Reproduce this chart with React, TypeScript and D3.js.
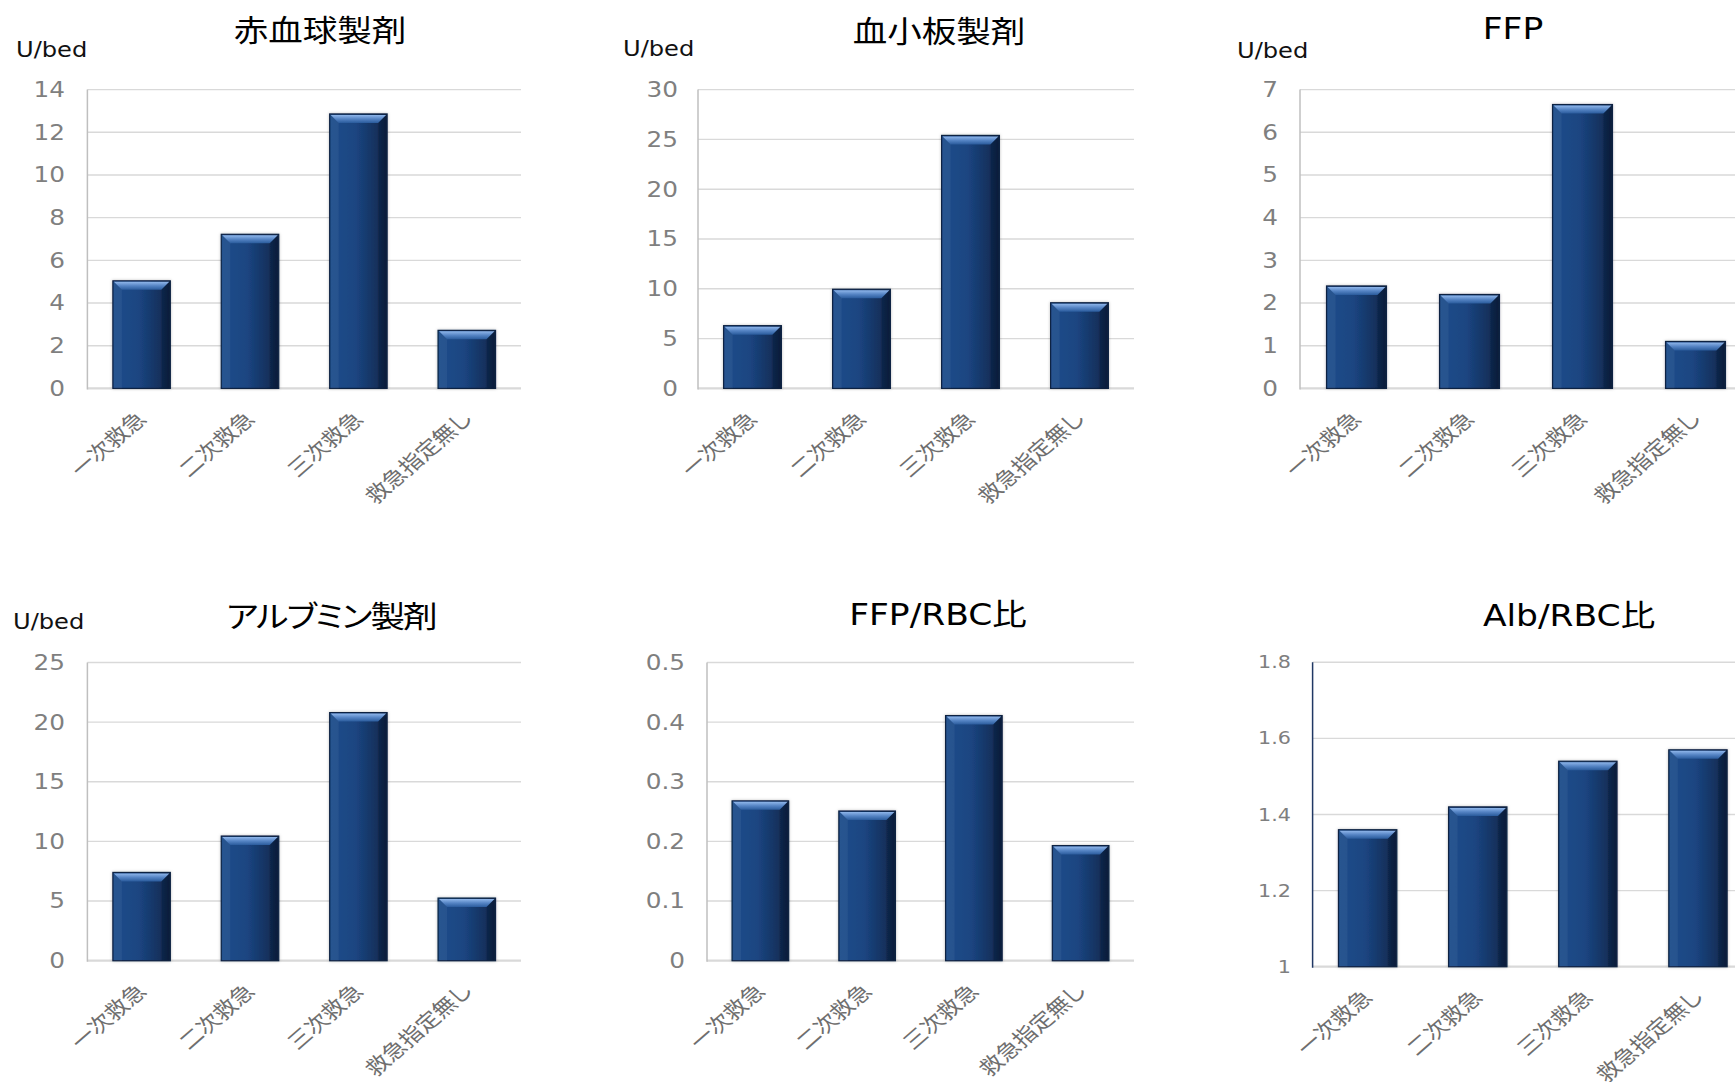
import React from 'react';
import * as d3 from 'd3';

// ---- data ----
const CATEGORIES = ['一次救急', '二次救急', '三次救急', '救急指定無し'];

const RBC_VALUES = [5.04, 7.22, 12.86, 2.72];
const PC_VALUES = [6.3, 9.95, 25.4, 8.6];
const FFP_VALUES = [2.4, 2.2, 6.65, 1.1];
const ALB_VALUES = [7.4, 10.45, 20.8, 5.25];
const FFP_RBC_VALUES = [0.268, 0.251, 0.411, 0.193];
const ALB_RBC_VALUES = [1.36, 1.42, 1.54, 1.57];

const RBC_TICKS = [0, 2, 4, 6, 8, 10, 12, 14];
const PC_TICKS = [0, 5, 10, 15, 20, 25, 30];
const FFP_TICKS = [0, 1, 2, 3, 4, 5, 6, 7];
const ALB_TICKS = [0, 5, 10, 15, 20, 25];
const FFP_RBC_TICKS = [0, 0.1, 0.2, 0.3, 0.4, 0.5];
const ALB_RBC_TICKS = [1, 1.2, 1.4, 1.6, 1.8];

const TITLES = ['赤血球製剤', '血小板製剤', 'FFP', 'アルブミン製剤', 'FFP/RBC比', 'Alb/RBC比'];
const UNIT_LABEL = 'U/bed';

// ---- styling / layout ----
const SX = 1.15; // horizontal stretch of the original picture
const FONT = "'DejaVu Sans', 'Noto Sans CJK JP', sans-serif";
const CJK_FONT = "'Noto Sans CJK JP', sans-serif";

type Panel = {
  title: string;
  titleFont: string;
  titleSpacing: number;
  values: number[];
  ticks: number[];
  left: number;
  right: number;
  top: number;
  bottom: number;
  titleX: number;
  titleY: number;
  unit?: { x: number; y: number };
  tickRight: number;
  tickFont: number;
  axisColor: string;
};

const PANELS: Panel[] = [
  { title: TITLES[0], titleFont: CJK_FONT, titleSpacing: 0, values: RBC_VALUES, ticks: RBC_TICKS, left: 87.4, right: 521, top: 89.6, bottom: 388.4,
    titleX: 320, titleY: 28, unit: { x: 16, y: 50 }, tickRight: 65, tickFont: 21.5, axisColor: '#bfbfbf' },
  { title: TITLES[1], titleFont: CJK_FONT, titleSpacing: 0, values: PC_VALUES, ticks: PC_TICKS, left: 698, right: 1134, top: 89.6, bottom: 388.4,
    titleX: 939, titleY: 29, unit: { x: 623, y: 49 }, tickRight: 678, tickFont: 21.5, axisColor: '#bfbfbf' },
  { title: TITLES[2], titleFont: FONT, titleSpacing: 0, values: FFP_VALUES, ticks: FFP_TICKS, left: 1300, right: 1752, top: 89.6, bottom: 388.4,
    titleX: 1513, titleY: 29, unit: { x: 1237, y: 51 }, tickRight: 1278, tickFont: 21.5, axisColor: '#bfbfbf' },
  { title: TITLES[3], titleFont: CJK_FONT, titleSpacing: -1.6, values: ALB_VALUES, ticks: ALB_TICKS, left: 87.4, right: 521, top: 662.5, bottom: 960.7,
    titleX: 331, titleY: 614, unit: { x: 13, y: 622 }, tickRight: 65, tickFont: 21.5, axisColor: '#bfbfbf' },
  { title: TITLES[4], titleFont: FONT, titleSpacing: 0, values: FFP_RBC_VALUES, ticks: FFP_RBC_TICKS, left: 707, right: 1134, top: 662.5, bottom: 960.7,
    titleX: 938, titleY: 615, tickRight: 685, tickFont: 21.5, axisColor: '#bfbfbf' },
  { title: TITLES[5], titleFont: FONT, titleSpacing: 0, values: ALB_RBC_VALUES, ticks: ALB_RBC_TICKS, left: 1312.6, right: 1753, top: 662.3, bottom: 966.7,
    titleX: 1569, titleY: 616, tickRight: 1291, tickFont: 18, axisColor: '#203864' },
];

const fmt = (v: number) => String(+v.toFixed(2));

function StretchText(props: {
  x: number; y: number; size: number; fill: string; anchor?: string; children: React.ReactNode; rotate?: number;
  family?: string; baseline?: string; spacing?: number;
}) {
  const { x, y, size, fill, anchor = 'start', children, rotate = 0, family = FONT, baseline = 'central', spacing = 0 } = props;
  return (
    <text
      transform={`translate(${x},${y}) scale(${SX},1) rotate(${rotate})`}
      fontSize={size}
      fill={fill}
      textAnchor={anchor}
      dominantBaseline={baseline}
      fontFamily={family}
      letterSpacing={spacing}
      style={{ fontFeatureSettings: '"palt" 1' }}
    >
      {children}
    </text>
  );
}

function ChartPanel({ p }: { p: Panel }) {
  const x = d3.scaleBand<string>().domain(CATEGORIES).range([p.left, p.right]).paddingInner(0.47).paddingOuter(0.235);
  const y = d3.scaleLinear().domain([p.ticks[0], p.ticks[p.ticks.length - 1]]).range([p.bottom, p.top]);
  const bw = x.bandwidth();
  const bev = 9;
  return (
    <g>
      {/* gridlines */}
      {p.ticks.map((t, i) => (
        <line key={'g' + i} x1={p.left} x2={p.right} y1={y(t)} y2={y(t)}
          stroke="#d9d9d9" strokeWidth={i === 0 ? 2.2 : 1.4} />
      ))}
      {/* y axis line */}
      <line x1={p.left} x2={p.left} y1={p.top} y2={p.bottom + 1} stroke={p.axisColor} strokeWidth={1.5} />
      {/* tick labels */}
      {p.ticks.map((t, i) => (
        <StretchText key={'t' + i} x={p.tickRight} y={y(t)} size={p.tickFont} fill="#7f7f7f" anchor="end">
          {fmt(t)}
        </StretchText>
      ))}
      {/* bars */}
      {p.values.map((v, i) => {
        const bx = x(CATEGORIES[i])!;
        const by = y(v);
        const y0 = y(p.ticks[0]);
        const h = y0 - by;
        return (
          <g key={'b' + i}>
            <rect x={bx} y={by} width={bw} height={h} fill="url(#barGrad)" stroke="#0d2243" strokeWidth={1.2}
              filter="url(#barShadow)" />
            <polygon points={`${bx + 1},${by + 1} ${bx + bw - 1},${by + 1} ${bx + bw - bev},${by + bev} ${bx + bev},${by + bev}`}
              fill="url(#bevelGrad)" />
            <polygon points={`${bx + 1},${by + 1} ${bx + bev},${by + bev} ${bx + bev},${y0} ${bx + 1},${y0}`}
              fill="rgba(255,255,255,0.05)" />
            <polygon points={`${bx + bw - 1},${by + 1} ${bx + bw - bev},${by + bev} ${bx + bw - bev},${y0} ${bx + bw - 1},${y0}`}
              fill="rgba(0,0,0,0.12)" />
          </g>
        );
      })}
      {/* category labels */}
      {CATEGORIES.map((c, i) => (
        <StretchText key={'c' + i} x={x(c)! + bw / 2 + 6} y={p.bottom + 32} size={20.5} fill="#6e6e6e"
          anchor="end" rotate={-45} family={CJK_FONT} baseline="alphabetic">
          {c}
        </StretchText>
      ))}
      {/* title */}
      <StretchText x={p.titleX} y={p.titleY} size={30} fill="#000" anchor="middle" family={p.titleFont} spacing={p.titleSpacing}>
        {p.title}
      </StretchText>
      {p.unit && (
        <StretchText x={p.unit.x} y={p.unit.y} size={21} fill="#111" anchor="start">
          {UNIT_LABEL}
        </StretchText>
      )}
    </g>
  );
}

export default function App() {
  return (
    <svg width={1735} height={1082} style={{ position: 'absolute', left: 0, top: 0, background: '#fff' }}>
      <defs>
        <linearGradient id="barGrad" x1="0" x2="1" y1="0" y2="0">
          <stop offset="0" stopColor="#1f4d8b" />
          <stop offset="0.45" stopColor="#1b4581" />
          <stop offset="0.8" stopColor="#14325f" />
          <stop offset="1" stopColor="#0b1f40" />
        </linearGradient>
        <linearGradient id="bevelGrad" x1="0" x2="0" y1="0" y2="1">
          <stop offset="0" stopColor="#8fb6ea" />
          <stop offset="0.5" stopColor="#5584c4" />
          <stop offset="1" stopColor="#2a5b9c" />
        </linearGradient>
        <filter id="barShadow" x="-20%" y="-10%" width="140%" height="120%">
          <feDropShadow dx="0" dy="0" stdDeviation="1.6" floodColor="#000" floodOpacity="0.25" />
        </filter>
      </defs>
      <rect x={0} y={0} width={1735} height={1082} fill="#fff" />
      {PANELS.map((p, i) => (
        <ChartPanel key={i} p={p} />
      ))}
    </svg>
  );
}
